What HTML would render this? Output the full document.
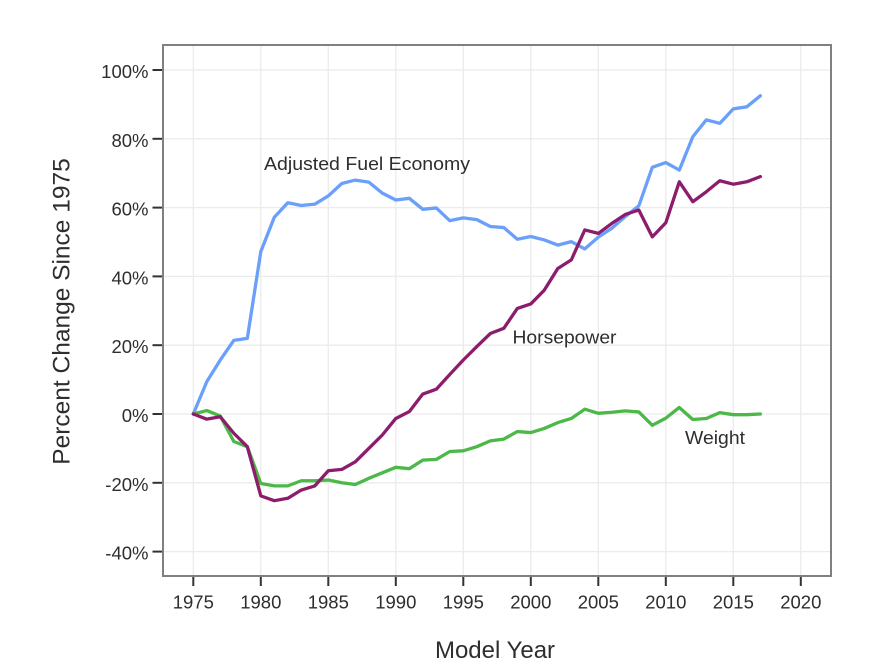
<!DOCTYPE html>
<html>
<head>
<meta charset="utf-8">
<style>
html,body{margin:0;padding:0;background:#fff;}
svg{display:block;}
text{font-family:"Liberation Sans",Arial,sans-serif;fill:#2e2e2e;}
</style>
</head>
<body>
<svg width="894" height="668" viewBox="0 0 894 668" xmlns="http://www.w3.org/2000/svg">
<rect x="0" y="0" width="894" height="668" fill="#fff"/>
<!-- grid -->
<g stroke="#ebebeb" stroke-width="1.3">
<line x1="163" x2="831" y1="70" y2="70"/>
<line x1="163" x2="831" y1="138.8" y2="138.8"/>
<line x1="163" x2="831" y1="207.6" y2="207.6"/>
<line x1="163" x2="831" y1="276.4" y2="276.4"/>
<line x1="163" x2="831" y1="345.2" y2="345.2"/>
<line x1="163" x2="831" y1="414" y2="414"/>
<line x1="163" x2="831" y1="482.8" y2="482.8"/>
<line x1="163" x2="831" y1="551.6" y2="551.6"/>
<line y1="45" y2="576" x1="193.3" x2="193.3"/>
<line y1="45" y2="576" x1="260.8" x2="260.8"/>
<line y1="45" y2="576" x1="328.3" x2="328.3"/>
<line y1="45" y2="576" x1="395.8" x2="395.8"/>
<line y1="45" y2="576" x1="463.3" x2="463.3"/>
<line y1="45" y2="576" x1="530.8" x2="530.8"/>
<line y1="45" y2="576" x1="598.3" x2="598.3"/>
<line y1="45" y2="576" x1="665.8" x2="665.8"/>
<line y1="45" y2="576" x1="733.3" x2="733.3"/>
<line y1="45" y2="576" x1="800.8" x2="800.8"/>
</g>
<!-- series -->
<g transform="translate(193.3,414) scale(13.5,-3.44)" fill="none" stroke-linejoin="round" stroke-linecap="round">
<polyline vector-effect="non-scaling-stroke" stroke="#6a9ffa" stroke-width="3.3" points="0,0 1,9.4 2,15.7 3,21.4 4,22 5,47.2 6,57.2 7,61.4 8,60.6 9,61 10,63.4 11,67 12,68 13,67.4 14,64.2 15,62.2 16,62.7 17,59.5 18,59.9 19,56.2 20,57 21,56.5 22,54.5 23,54.2 24,50.8 25,51.6 26,50.6 27,49.1 28,50.1 29,48 30,51.4 31,54 32,57.4 33,60.5 34,71.7 35,73.1 36,70.9 37,80.6 38,85.5 39,84.5 40,88.7 41,89.3 42,92.5"/>
<polyline vector-effect="non-scaling-stroke" stroke="#4cb848" stroke-width="3.3" points="0,0 1,1 2,-0.6 3,-8 4,-9.5 5,-20.2 6,-20.9 7,-20.9 8,-19.4 9,-19.4 10,-19.2 11,-20 12,-20.5 13,-18.7 14,-17.1 15,-15.5 16,-15.9 17,-13.4 18,-13.2 19,-10.9 20,-10.7 21,-9.5 22,-7.8 23,-7.3 24,-5.1 25,-5.4 26,-4.2 27,-2.5 28,-1.3 29,1.4 30,0.2 31,0.5 32,0.9 33,0.6 34,-3.3 35,-1.2 36,1.9 37,-1.6 38,-1.3 39,0.4 40,-0.2 41,-0.2 42,0"/>
<polyline vector-effect="non-scaling-stroke" stroke="#8c1d6c" stroke-width="3.3" points="0,0 1,-1.5 2,-0.8 3,-5.6 4,-9.5 5,-23.8 6,-25.2 7,-24.5 8,-22.1 9,-20.9 10,-16.5 11,-16.1 12,-13.9 13,-10 14,-6.1 15,-1.3 16,0.7 17,5.8 18,7.2 19,11.5 20,15.7 21,19.6 22,23.4 23,24.9 24,30.7 25,32 26,36 27,42.3 28,44.8 29,53.5 30,52.5 31,55.4 32,58 33,59.3 34,51.5 35,55.6 36,67.5 37,61.7 38,64.6 39,67.8 40,66.8 41,67.5 42,69"/>
</g>
<!-- panel border -->
<rect x="163" y="45" width="668" height="531" fill="none" stroke="#808080" stroke-width="2"/>
<!-- ticks -->
<g stroke="#333" stroke-width="2">
<line x1="152.5" x2="162" y1="70" y2="70"/>
<line x1="152.5" x2="162" y1="138.8" y2="138.8"/>
<line x1="152.5" x2="162" y1="207.6" y2="207.6"/>
<line x1="152.5" x2="162" y1="276.4" y2="276.4"/>
<line x1="152.5" x2="162" y1="345.2" y2="345.2"/>
<line x1="152.5" x2="162" y1="414" y2="414"/>
<line x1="152.5" x2="162" y1="482.8" y2="482.8"/>
<line x1="152.5" x2="162" y1="551.6" y2="551.6"/>
<line y1="577" y2="586" x1="193.3" x2="193.3"/>
<line y1="577" y2="586" x1="260.8" x2="260.8"/>
<line y1="577" y2="586" x1="328.3" x2="328.3"/>
<line y1="577" y2="586" x1="395.8" x2="395.8"/>
<line y1="577" y2="586" x1="463.3" x2="463.3"/>
<line y1="577" y2="586" x1="530.8" x2="530.8"/>
<line y1="577" y2="586" x1="598.3" x2="598.3"/>
<line y1="577" y2="586" x1="665.8" x2="665.8"/>
<line y1="577" y2="586" x1="733.3" x2="733.3"/>
<line y1="577" y2="586" x1="800.8" x2="800.8"/>
</g>
<!-- y tick labels -->
<g font-size="18.5" text-anchor="end">
<text x="148.5" y="78">100%</text>
<text x="148.5" y="146.8">80%</text>
<text x="148.5" y="215.6">60%</text>
<text x="148.5" y="284.4">40%</text>
<text x="148.5" y="353.2">20%</text>
<text x="148.5" y="422">0%</text>
<text x="148.5" y="490.8">-20%</text>
<text x="148.5" y="559.6">-40%</text>
</g>
<!-- x tick labels -->
<g font-size="18.5" text-anchor="middle">
<text x="193.3" y="608.5">1975</text>
<text x="260.8" y="608.5">1980</text>
<text x="328.3" y="608.5">1985</text>
<text x="395.8" y="608.5">1990</text>
<text x="463.3" y="608.5">1995</text>
<text x="530.8" y="608.5">2000</text>
<text x="598.3" y="608.5">2005</text>
<text x="665.8" y="608.5">2010</text>
<text x="733.3" y="608.5">2015</text>
<text x="800.8" y="608.5">2020</text>
</g>
<!-- axis titles -->
<text x="495" y="658" font-size="24" text-anchor="middle" fill="#1a1a1a">Model Year</text>
<text transform="translate(69.5,311.5) rotate(-90)" x="0" y="0" font-size="24.5" text-anchor="middle" fill="#1a1a1a">Percent Change Since 1975</text>
<!-- series labels -->
<text x="264" y="170" font-size="18.5" textLength="206" lengthAdjust="spacingAndGlyphs">Adjusted Fuel Economy</text>
<text x="512.5" y="343.5" font-size="18.5" textLength="104" lengthAdjust="spacingAndGlyphs">Horsepower</text>
<text x="685" y="444" font-size="18.5" textLength="60" lengthAdjust="spacingAndGlyphs">Weight</text>
</svg>
</body>
</html>
